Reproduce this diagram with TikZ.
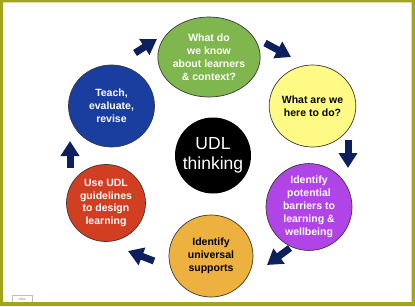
\documentclass[tikz,border=0pt]{standalone}
\usepackage{fontspec}
\setmainfont{Liberation Sans}
\usepackage{xcolor}
\usepackage{tikz}
\usetikzlibrary{positioning,shapes.geometric,arrows.meta}
\definecolor{frameolive}{HTML}{A3A51A}
\definecolor{navy}{HTML}{0D1F5C}
\definecolor{rimgrey}{HTML}{3A3A3A}
\definecolor{citegrey}{HTML}{B8BEC4}
\definecolor{knowgreen}{HTML}{7FB74E}
\definecolor{todoyellow}{HTML}{FFFA86}
\definecolor{barrierpurple}{HTML}{B044E6}
\definecolor{supportorange}{HTML}{ECB13F}
\definecolor{designred}{HTML}{D23E22}
\definecolor{teachblue}{HTML}{1A3EA0}

\begin{document}
\begin{tikzpicture}[x=1pt,y=1pt,
    stage/.style={ellipse,draw=rimgrey,line width=.7pt,inner sep=0pt,
      minimum width=85,minimum height=80,align=center,text=white,
      font=\fontsize{10.5}{12.9}\selectfont\bfseries},
    flow/.style={draw=navy,line width=7pt,-{Triangle[length=15pt,width=18pt]}}]
    \useasboundingbox (0,0) rectangle (415,306);
    \fill[white](0,0) rectangle(415,306);
    \node[draw=citegrey,fill=white,minimum width=20,minimum height=8,inner sep=0pt,
      text=gray,font=\fontsize{3.5}{4}\selectfont] (cite) at (22,7){cites};
    \fill[frameolive,even odd rule](0,0) rectangle(415,306) (3,4) rectangle(411.5,303.5);
    % ring of stages
    \node[stage,fill=knowgreen] (know) at (209,249){What do\\we know\\about learners\\\& context?};
    \node[stage,fill=todoyellow,text=black,minimum width=86,minimum height=82] (todo) at (312.5,200){What are we\\here to do?};
    \node[stage,fill=barrierpurple,minimum width=86,minimum height=79] (barrier) at (309,99){Identify\\potential\\barriers to\\learning \&\\wellbeing};
    \node[stage,fill=supportorange,text=black,minimum width=84,minimum height=82] (support) at (211,50){Identify\\universal\\supports};
    \node[stage,fill=designred,minimum width=79,minimum height=77] (design) at (106,103){Use UDL\\guidelines\\to design\\learning};
    \node[stage,fill=teachblue,minimum width=86,minimum height=82] (teach) at (111.5,200){Teach,\\evaluate,\\revise};
    \node[circle,fill=black,minimum size=76,inner sep=0pt,align=center,text=white,
      font=\fontsize{17.5}{20.5}\selectfont] (udl) at (213,150.5){UDL\\thinking};
    % arrows between stages
    \coordinate (teachout) at (135,253);  \coordinate (knowin) at (157,267);
    \coordinate (knowout) at (265,263);   \coordinate (todoin) at (291,249);
    \coordinate (todoout) at (348,166);   \coordinate (barrierin) at (348,138);
    \coordinate (barrierout) at (290,58); \coordinate (supportin) at (267,41);
    \coordinate (supportout) at (154,45); \coordinate (designin) at (128,55);
    \coordinate (designout) at (70,138);  \coordinate (teachin) at (70,165);
    \draw[flow](teachout)--(knowin); \draw[flow](knowout)--(todoin);
    \draw[flow](todoout)--(barrierin); \draw[flow](barrierout)--(supportin);
    \draw[flow](supportout)--(designin); \draw[flow](designout)--(teachin);
  \end{tikzpicture}
\end{document}
